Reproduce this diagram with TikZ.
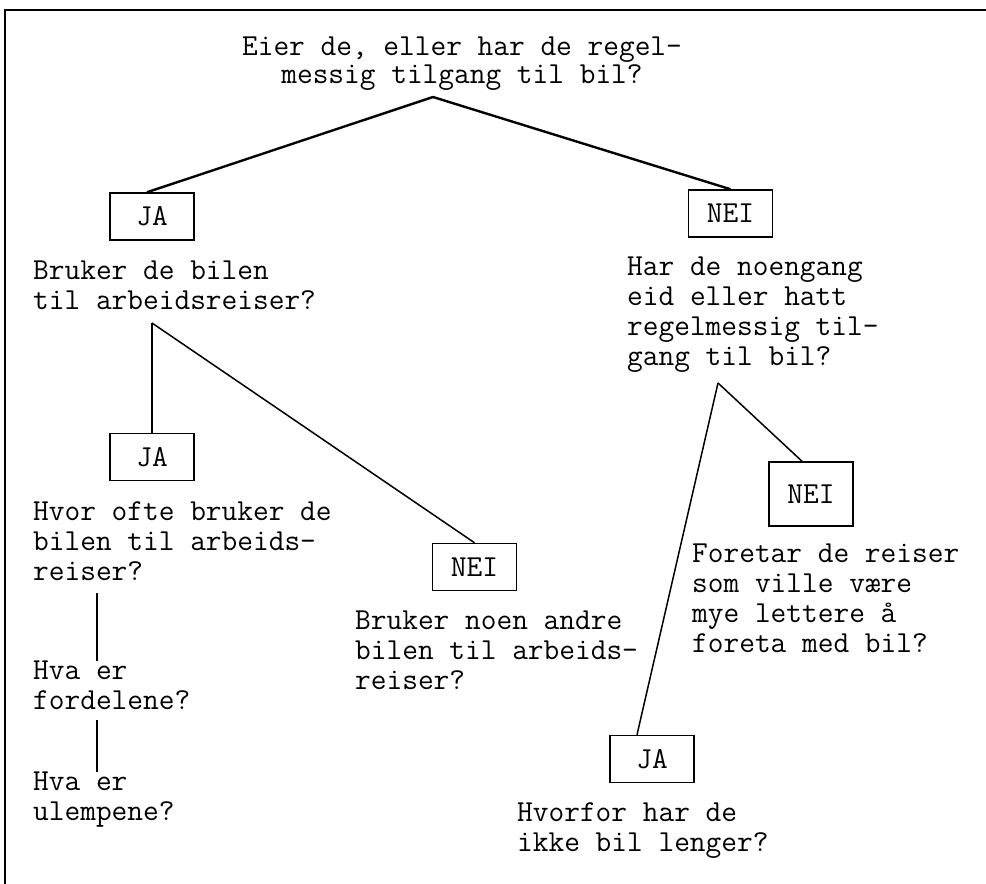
\documentclass[tikz,border=0pt]{standalone}
\usepackage{fontspec}

\tikzstyle{question} = [align=left, anchor=north west, inner sep=0pt,
    font={\ttfamily\fontsize{30.5}{30}\selectfont}, execute at begin node=\strut]
\tikzstyle{answer} = [draw, line width=1.5pt, minimum width=84pt, minimum height=47pt,
    inner sep=0pt, font={\ttfamily\fontsize{30.5}{30}\selectfont}]
\tikzstyle{branch} = [line width=1.5pt]

\begin{document}
\begin{tikzpicture}[x=1pt, y=-1pt]
\useasboundingbox (0,0) rectangle (986,884);
\draw[line width=1.5pt] (5,884) -- (5,10) -- (986,10);

\node[question, align=center, anchor=north,
    font={\ttfamily\fontsize{30.5}{28.5}\selectfont}] (eier) at (462,36.5)
    {Eier de, eller har de regel-\\messig tilgang til bil?};
\coordinate (top) at (433,97);

\node[answer] (ja1) at (152,216.5) {JA};
\node[answer] (nei1) at (730.5,213.5) {NEI};
\draw[line width=2.4pt] (top) -- ([xshift=-5pt]ja1.north);
\draw[line width=2.4pt] (top) -- (nei1.north);

\node[question] (bruker) at (33,260.5)
    {Bruker de bilen\\til arbeidsreiser?};
\coordinate (jatop) at (152,323);
\node[answer] (ja2) at (152,457) {JA};
\node[answer] (nei2) at (474.5,567) {NEI};
\draw[branch] (jatop) -- (ja2.north);
\draw[branch] (jatop) -- (nei2.north);

\node[question] (hvor) at (33,501)
    {Hvor ofte bruker de\\bilen til arbeids-\\reiser?};
\coordinate (hvorend) at (97,593);
\node[question] (fordel) at (33,661)
    {Hva er\\fordelene?};
\coordinate (fordelend) at (97,720);
\node[question] (ulemp) at (33,772)
    {Hva er\\ulempene?};
\draw[branch] (hvorend) -- (hvorend |- fordel.north);
\draw[branch] (fordelend) -- (fordelend |- ulemp.north);

\node[question] (andre) at (355,611)
    {Bruker noen andre\\bilen til arbeids-\\reiser?};

\node[question] (noengang) at (627,257)
    {Har de noengang\\eid eller hatt\\regelmessig til-\\gang til bil?};
\coordinate (neitop) at (718,383);
\node[answer, minimum height=64pt] (nei3) at (811,494) {NEI};
\node[answer] (ja3) at (652,759) {JA};
\draw[branch] (neitop) -- ([xshift=-9pt]nei3.north);
\draw[branch] (neitop) -- ([xshift=-15pt]ja3.north);

\node[question] (foretar) at (692,544)
    {Foretar de reiser\\som ville være\\mye lettere å\\foreta med bil?};
\node[question] (hvorfor) at (517,802)
    {Hvorfor har de\\ikke bil lenger?};
\end{tikzpicture}
\end{document}
